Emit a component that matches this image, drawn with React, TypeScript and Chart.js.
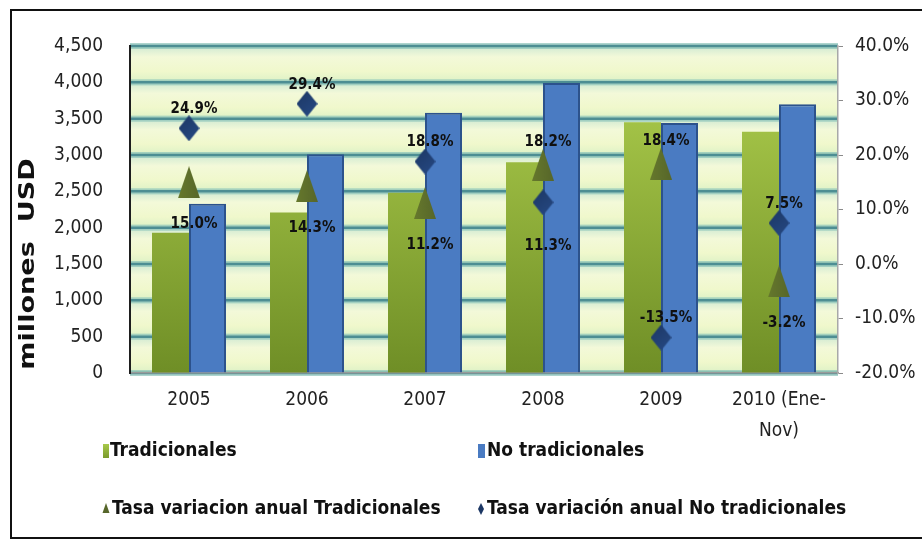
import React, { useEffect, useRef } from 'react';
import { Chart, registerables } from 'chart.js';

Chart.register(...registerables);

// ---- data ----
const categories: (string | string[])[] = ['2005', '2006', '2007', '2008', '2009', ['2010 (Ene-', 'Nov)']];
const tradicionales = [1930, 2210, 2480, 2900, 3450, 3320];
const noTradicionales = [2330, 3010, 3580, 3990, 3440, 3700];
const tasaTradicionales = [15.0, 14.3, 11.2, 18.2, 18.4, -3.2];
const tasaNoTradicionales = [24.9, 29.4, 18.8, 11.3, -13.5, 7.5];
const leftAxis = { min: 0, max: 4500, step: 500 };
const rightAxis = { min: -20, max: 40, step: 10 };
const yTitle = 'millones  USD';

// label side per point (style)
const sideTrad = ['below', 'below', 'below', 'above', 'above', 'below'];
const sideNoTrad = ['above', 'above', 'above', 'below', 'above', 'above'];

const FONT = '"DejaVu Sans Condensed", "DejaVu Sans", sans-serif';
const GREEN = '#8fb236';
const BLUE = '#4a7bc2';
const BLUE_BORDER = '#2c528c';
const OLIVE = '#56662a';
const NAVY = '#1c3764';

function makeTriangle(w: number, h: number, color: string, dark: string) {
  const c = document.createElement('canvas');
  c.width = w; c.height = h;
  const x = c.getContext('2d')!;
  const g = x.createLinearGradient(0, 0, w, 0);
  g.addColorStop(0, color); g.addColorStop(1, dark);
  x.fillStyle = g;
  x.beginPath(); x.moveTo(w / 2, 0); x.lineTo(w, h); x.lineTo(0, h); x.closePath(); x.fill();
  return c;
}
function makeDiamond(w: number, h: number, color: string, dark: string) {
  const c = document.createElement('canvas');
  c.width = w; c.height = h;
  const x = c.getContext('2d')!;
  const g = x.createLinearGradient(0, 0, w, h);
  g.addColorStop(0, dark); g.addColorStop(1, color);
  x.fillStyle = g;
  x.beginPath(); x.moveTo(w / 2, 0); x.lineTo(w, h / 2); x.lineTo(w / 2, h); x.lineTo(0, h / 2); x.closePath(); x.fill();
  return c;
}

const backgroundPlugin = {
  id: 'bgBands',
  beforeDraw(chart: any) {
    const { ctx, chartArea: a, width, height } = chart;
    const y = chart.scales.y;
    ctx.save();
    ctx.fillStyle = '#ffffff';
    ctx.fillRect(0, 0, width, height);
    // frame
    ctx.strokeStyle = '#111';
    ctx.lineWidth = 2;
    ctx.strokeRect(11, 10, 960, 528);
    // bands
    const ticks = y.ticks.map((t: any) => t.value);
    for (let i = 0; i < ticks.length - 1; i++) {
      const bot = y.getPixelForValue(ticks[i]);
      const top = y.getPixelForValue(ticks[i + 1]);
      const g = ctx.createLinearGradient(0, top, 0, bot);
      g.addColorStop(0, '#cfe9d2');
      g.addColorStop(0.3, '#f3f9d9');
      g.addColorStop(0.7, '#f0f8cc');
      g.addColorStop(1, '#dcf1c6');
      ctx.fillStyle = g;
      ctx.fillRect(a.left, top, a.right - a.left, bot - top);
    }
    // grid lines
    for (const v of ticks) {
      const py = y.getPixelForValue(v);
      ctx.fillStyle = 'rgba(140,195,185,0.7)';
      ctx.fillRect(a.left, py - 3, a.right - a.left, 6);
      ctx.strokeStyle = '#4d8e93';
      ctx.lineWidth = 2.5;
      ctx.beginPath(); ctx.moveTo(a.left, py); ctx.lineTo(a.right, py); ctx.stroke();
    }
    ctx.restore();
  },
};

const labelsPlugin = {
  id: 'rateLabels',
  afterDatasetsDraw(chart: any) {
    const { ctx } = chart;
    ctx.save();
    ctx.font = `bold 15px ${FONT}`;
    ctx.fillStyle = '#101010';
    ctx.textAlign = 'center';
    ctx.textBaseline = 'middle';
    const specs = [
      { idx: 2, side: sideTrad, above: -23, below: 42 },
      { idx: 3, side: sideNoTrad, above: -19, below: 44 },
    ];
    for (const s of specs) {
      const meta = chart.getDatasetMeta(s.idx);
      const data = chart.data.datasets[s.idx].data as number[];
      meta.data.forEach((el: any, j: number) => {
        const off = s.side[j] === 'above' ? s.above : s.below;
        ctx.fillText(data[j].toFixed(1) + '%', el.x + 5, el.y + off);
      });
    }
    ctx.restore();
  },
};

const decorPlugin = {
  id: 'decor',
  afterDraw(chart: any) {
    const { ctx } = chart;
    const ds = chart.data.datasets;
    ctx.save();
    // y title
    ctx.translate(29, 264);
    ctx.rotate(-Math.PI / 2);
    ctx.scale(1.29, 1);
    ctx.font = `bold 21px "DejaVu Sans", sans-serif`;
    ctx.fillStyle = '#111';
    ctx.textAlign = 'center';
    ctx.textBaseline = 'middle';
    ctx.fillText(yTitle, 0, 0);
    ctx.restore();

    // legend
    ctx.save();
    ctx.font = `bold 19px ${FONT}`;
    ctx.fillStyle = '#111';
    ctx.textBaseline = 'middle';
    ctx.textAlign = 'left';
    const r1 = 451, r2 = 509;
    const gg = ctx.createLinearGradient(0, 444, 0, 458);
    gg.addColorStop(0, '#a8c94a'); gg.addColorStop(1, '#7a9a2c');
    ctx.fillStyle = gg;
    ctx.fillRect(103, 444, 6, 14);
    ctx.fillStyle = BLUE;
    ctx.fillRect(478, 444, 7, 14);
    ctx.fillStyle = '#111';
    ctx.fillText(ds[0].label, 110, r1);
    ctx.fillText(ds[1].label, 487, r1);
    // small triangle
    ctx.fillStyle = OLIVE;
    ctx.beginPath(); ctx.moveTo(106, r2 - 6); ctx.lineTo(109.5, r2 + 4); ctx.lineTo(102.5, r2 + 4); ctx.closePath(); ctx.fill();
    // small diamond
    ctx.fillStyle = NAVY;
    ctx.beginPath(); ctx.moveTo(481, r2 - 6); ctx.lineTo(484, r2); ctx.lineTo(481, r2 + 6); ctx.lineTo(478, r2); ctx.closePath(); ctx.fill();
    ctx.fillStyle = '#111';
    ctx.fillText(ds[2].label, 112, r2);
    ctx.fillText(ds[3].label, 487, r2);
    ctx.restore();
  },
};

export default function App() {
  const ref = useRef<HTMLCanvasElement>(null);
  useEffect(() => {
    const tri = makeTriangle(22, 32, '#66782c', OLIVE);
    const dia = makeDiamond(21, 26, '#274a85', NAVY);
    const chart = new Chart(ref.current!, {
      type: 'bar',
      data: {
        labels: categories as any,
        datasets: [
          {
            type: 'bar',
            label: 'Tradicionales',
            data: tradicionales,
            yAxisID: 'y',
            order: 2,
            backgroundColor: (c: any) => {
              const { ctx, chartArea } = c.chart;
              if (!chartArea) return GREEN;
              const g = ctx.createLinearGradient(0, chartArea.top, 0, chartArea.bottom);
              g.addColorStop(0, '#b2d250');
              g.addColorStop(1, '#6f8e26');
              return g;
            },
            borderWidth: 0,
          },
          {
            type: 'bar',
            label: 'No tradicionales',
            data: noTradicionales,
            yAxisID: 'y',
            order: 2,
            backgroundColor: BLUE,
            borderColor: BLUE_BORDER,
            borderWidth: 2,
          },
          {
            type: 'line',
            label: 'Tasa variacion anual Tradicionales',
            data: tasaTradicionales,
            yAxisID: 'y1',
            order: 1,
            showLine: false,
            pointStyle: tri as any,
            pointRadius: 12,
            backgroundColor: OLIVE,
            borderColor: OLIVE,
          },
          {
            type: 'line',
            label: 'Tasa variación anual No tradicionales',
            data: tasaNoTradicionales,
            yAxisID: 'y1',
            order: 0,
            showLine: false,
            pointStyle: dia as any,
            pointRadius: 11,
            backgroundColor: NAVY,
            borderColor: NAVY,
          },
        ],
      },
      options: {
        responsive: false,
        animation: false,
        layout: { padding: { top: 46, left: 0, right: 0, bottom: 0 } },
        datasets: { bar: { barPercentage: 1, categoryPercentage: 0.627 } } as any,
        plugins: { legend: { display: false }, tooltip: { enabled: false }, title: { display: false } },
        scales: {
          x: {
            grid: { display: true, color: 'rgba(0,0,0,0)', drawTicks: false },
            border: { display: true, color: '#9a9a9a', width: 1.5 },
            ticks: {
              color: '#222',
              padding: 11,
              maxRotation: 0,
              autoSkip: false,
              font: { family: FONT, size: 19, lineHeight: 1.65 },
            },
            afterFit: (s: any) => { s.height = 168; },
          },
          y: {
            position: 'left',
            min: leftAxis.min,
            max: leftAxis.max,
            grid: { display: true, color: 'rgba(0,0,0,0)', drawTicks: false },
            border: { display: true, color: '#1e1e1e', width: 2 },
            ticks: {
              stepSize: leftAxis.step,
              color: '#222',
              padding: 27,
              font: { family: FONT, size: 19 },
              callback: (v: any) => Number(v).toLocaleString('en-US'),
            },
            afterFit: (s: any) => { s.width = 130; },
          },
          y1: {
            position: 'right',
            min: rightAxis.min,
            max: rightAxis.max,
            grid: { drawOnChartArea: false, drawTicks: true, tickLength: 5, color: '#8a8a8a' },
            border: { display: true, color: '#a8a8a8', width: 1.5 },
            ticks: {
              stepSize: rightAxis.step,
              color: '#222',
              padding: 12,
              font: { family: FONT, size: 19 },
              callback: (v: any) => Number(v).toFixed(1) + '%',
            },
            afterFit: (s: any) => { s.width = 84; },
          },
        },
      },
      plugins: [backgroundPlugin, labelsPlugin, decorPlugin],
    });
    return () => chart.destroy();
  }, []);

  return (
    <div style={{ position: 'absolute', left: 0, top: 0, width: 922, height: 541, background: '#fff' }}>
      <canvas ref={ref} width={922} height={541} style={{ display: 'block' }} />
    </div>
  );
}
